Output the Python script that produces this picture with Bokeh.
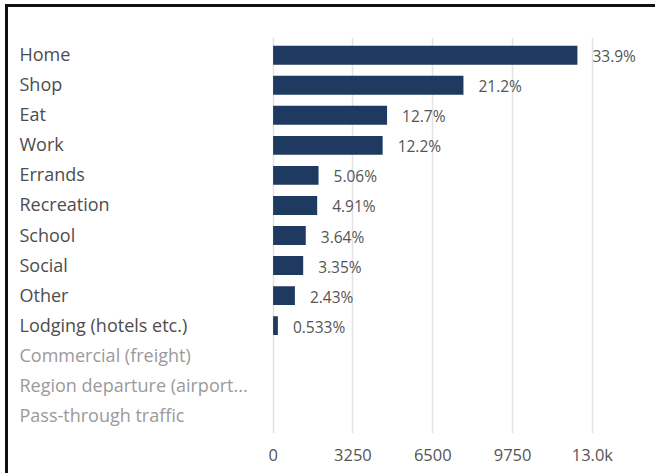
from bokeh.plotting import figure
from bokeh.models import ColumnDataSource, FactorRange, Range1d, FixedTicker, CustomJSTickFormatter
from bokeh.core.properties import value
from bokeh.embed import file_html
from bokeh.resources import INLINE

# ---- data ----
categories = ["Home", "Shop", "Eat", "Work", "Errands", "Recreation", "School",
              "Social", "Other", "Lodging (hotels etc.)", "Commercial (freight)",
              "Region departure (airport...", "Pass-through traffic"]
values = [12390, 7750, 4640, 4460, 1850, 1795, 1330, 1225, 888, 195, 0, 0, 0]
pct_labels = ["33.9%", "21.2%", "12.7%", "12.2%", "5.06%", "4.91%", "3.64%",
              "3.35%", "2.43%", "0.533%", "", "", ""]
tick_values = [0, 3250, 6500, 9750, 13000]
tick_labels = ["0", "3250", "6500", "9750", "13.0k"]

FONT = "Open Sans"
BAR = "#1f3a60"

# layout (canvas pixels; canvas sits at page x=8, y=7 after the CSS border)
W, H = 650, 469
frame_left, frame_right = 2, 642
zero_px = 264.6
px_per_unit = 319.3 / 13000.0
x_start = (frame_left - zero_px) / px_per_unit
x_end = (frame_right - zero_px) / px_per_unit
label_x = x_start + 9 / px_per_unit

label_colors = ["#4d4d4d" if v > 0 else "#9a9a9a" for v in values]

src = ColumnDataSource(dict(cat=categories, val=values, pct=pct_labels,
                            lx=[label_x] * len(categories), lcol=label_colors))

p = figure(width=W, height=H, output_backend="svg", toolbar_location=None,
           y_range=FactorRange(factors=list(reversed(categories)),
                               range_padding=0.09, range_padding_units="absolute"),
           x_range=Range1d(x_start, x_end),
           min_border_left=frame_left, min_border_right=W - frame_right,
           min_border_top=30, min_border_bottom=43)

p.hbar(y="cat", right="val", left=0, height=0.63, source=src,
       fill_color=BAR, line_color=None)

p.text(x="val", y="cat", text="pct", source=src, x_offset=15, y_offset=1,
       text_font=value(FONT), text_font_size="15.5px", text_color="#555555",
       text_align="left", text_baseline="middle")

p.text(x="lx", y="cat", text="cat", source=src, y_offset=-1,
       text_font=value(FONT), text_font_size="18px", text_color="lcol",
       text_align="left", text_baseline="middle")

p.yaxis.visible = False
p.ygrid.grid_line_color = None

xa = p.xaxis[0]
xa.ticker = FixedTicker(ticks=tick_values)
xa.formatter = CustomJSTickFormatter(
    args=dict(tv=tick_values, tl=tick_labels),
    code="const i = tv.indexOf(tick); return i >= 0 ? tl[i] : '';")
xa.axis_line_color = None
xa.major_tick_line_color = None
xa.minor_tick_line_color = None
xa.major_tick_out = 0
xa.major_label_standoff = 9
xa.major_label_text_font = FONT
xa.major_label_text_font_size = "16.5px"
xa.major_label_text_color = "#555555"

p.xgrid.ticker = FixedTicker(ticks=tick_values)
p.xgrid.grid_line_color = "#e2e2e2"
p.xgrid.grid_line_width = 1.5

p.outline_line_color = None
p.background_fill_color = "white"
p.border_fill_color = "white"
p.styles = {"margin-left": "5px", "margin-top": "4px",
            "border-left": "3px solid #111111", "border-top": "3px solid #111111"}

open("out.html", "w").write(file_html(p, INLINE))
